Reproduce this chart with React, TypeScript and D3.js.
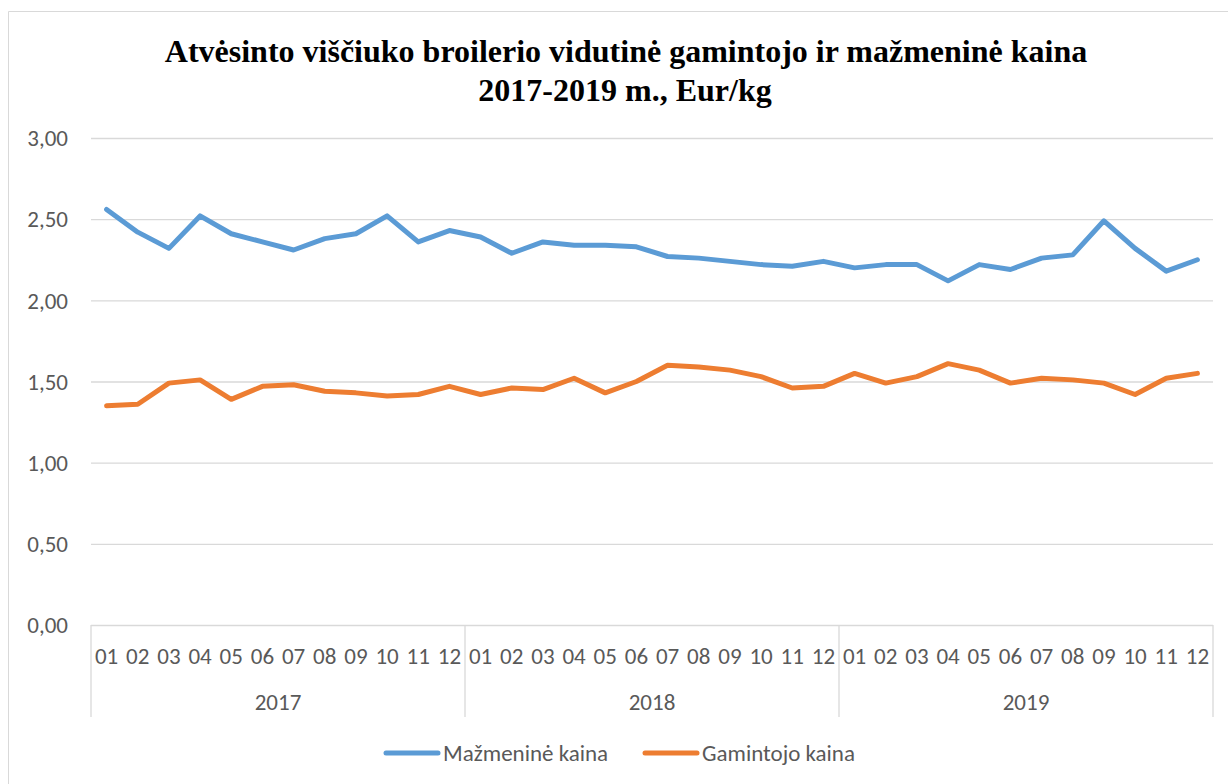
import React, { useRef, useEffect } from "react";
import { select, scaleBand, scaleLinear, line, axisLeft, format } from "d3";

// chart data
const years = ["2017", "2018", "2019"];
const months = ["01", "02", "03", "04", "05", "06", "07", "08", "09", "10", "11", "12"];
const retailPrice = [
  2.56, 2.42, 2.32, 2.52, 2.41, 2.36, 2.31, 2.38, 2.41, 2.52, 2.36, 2.43,
  2.39, 2.29, 2.36, 2.34, 2.34, 2.33, 2.27, 2.26, 2.24, 2.22, 2.21, 2.24,
  2.2, 2.22, 2.22, 2.12, 2.22, 2.19, 2.26, 2.28, 2.49, 2.32, 2.18, 2.25,
];
const producerPrice = [
  1.35, 1.36, 1.49, 1.51, 1.39, 1.47, 1.48, 1.44, 1.43, 1.41, 1.42, 1.47,
  1.42, 1.46, 1.45, 1.52, 1.43, 1.5, 1.6, 1.59, 1.57, 1.53, 1.46, 1.47,
  1.55, 1.49, 1.53, 1.61, 1.57, 1.49, 1.52, 1.51, 1.49, 1.42, 1.52, 1.55,
];
const yTicks = [0, 0.5, 1, 1.5, 2, 2.5, 3];
const seriesNames = ["Mažmeninė kaina", "Gamintojo kaina"];
const colors = ["#5b9bd5", "#ed7d31"];

const W = 1228;
const H = 784;
const labelFont = "Carlito, Calibri, Lato, sans-serif";
const labelSize = 23;
const textColor = "#595959";
const gridColor = "#d9d9d9";

function PriceChart() {
  const svgRef = useRef<SVGSVGElement>(null);

  useEffect(() => {
    const svg = select(svgRef.current);
    svg.selectAll("*").remove();

    const categories = years.flatMap((y) => months.map((m) => `${y}-${m}`));

    const x = scaleBand().domain(categories).range([91, 1213]).padding(0);
    const y = scaleLinear().domain([0, 3]).range([625, 138]);
    const fmt = (v: number) => format(".2f")(v).replace(".", ",");

    // outer frame (top + left visible)
    svg.append("path")
      .attr("d", `M8.5,${H} V11.5 H${W}`)
      .attr("fill", "none")
      .attr("stroke", gridColor);

    // title
    const title = svg.append("text")
      .attr("text-anchor", "middle")
      .attr("font-family", "'Liberation Serif', 'Times New Roman', serif")
      .attr("font-weight", "bold")
      .attr("font-size", 32)
      .attr("fill", "#000");
    title.append("tspan").attr("x", 626).attr("y", 62)
      .text("Atvėsinto viščiuko broilerio vidutinė gamintojo ir mažmeninė kaina");
    title.append("tspan").attr("x", 625).attr("y", 101)
      .text("2017-2019 m., Eur/kg");

    // y grid + labels
    const yAxis = axisLeft(y)
      .tickValues(yTicks)
      .tickSize(-(1213 - 91))
      .tickPadding(23)
      .tickFormat((d) => fmt(d as number));

    const gy = svg.append("g")
      .attr("transform", "translate(91,0)")
      .call(yAxis);
    gy.select(".domain").remove();
    gy.selectAll(".tick line").attr("stroke", gridColor).attr("stroke-width", 1.3);
    gy.selectAll(".tick text")
      .attr("fill", textColor)
      .attr("font-family", labelFont)
      .attr("font-size", labelSize)
      .attr("dy", "0.34em");

    // category axis: month labels, year labels, separators
    const gx = svg.append("g");
    gx.selectAll(".month")
      .data(categories)
      .join("text")
      .attr("class", "month")
      .attr("x", (d) => (x(d) as number) + x.bandwidth() / 2)
      .attr("y", 664)
      .attr("text-anchor", "middle")
      .attr("fill", textColor)
      .attr("font-family", labelFont)
      .attr("font-size", labelSize)
      .text((d) => d.split("-")[1]);

    gx.selectAll(".year")
      .data(years)
      .join("text")
      .attr("class", "year")
      .attr("x", (d) => {
        const a = x(`${d}-01`) as number;
        const b = (x(`${d}-12`) as number) + x.bandwidth();
        return (a + b) / 2;
      })
      .attr("y", 710)
      .attr("text-anchor", "middle")
      .attr("fill", textColor)
      .attr("font-family", labelFont)
      .attr("font-size", labelSize)
      .text((d) => d);

    const seps = [...years.map((d) => x(`${d}-01`) as number), 1213];
    gx.selectAll(".sep")
      .data(seps)
      .join("line")
      .attr("class", "sep")
      .attr("x1", (d) => d)
      .attr("x2", (d) => d)
      .attr("y1", 625)
      .attr("y2", 717)
      .attr("stroke", gridColor)
      .attr("stroke-width", 1.3);

    // lines
    const lineGen = line<number>()
      .x((d, i) => (x(categories[i]) as number) + x.bandwidth() / 2)
      .y((d) => y(d));

    svg.append("g")
      .selectAll("path")
      .data([retailPrice, producerPrice])
      .join("path")
      .attr("d", (d) => lineGen(d))
      .attr("fill", "none")
      .attr("stroke", (d, i) => colors[i])
      .attr("stroke-width", 5)
      .attr("stroke-linejoin", "round")
      .attr("stroke-linecap", "round");

    // legend
    const legendX = [386, 645];
    const legend = svg.append("g")
      .selectAll("g")
      .data(seriesNames)
      .join("g")
      .attr("transform", (d, i) => `translate(${legendX[i]},753)`);
    legend.append("line")
      .attr("x1", 0)
      .attr("x2", 52)
      .attr("stroke", (d, i) => colors[i])
      .attr("stroke-width", 5)
      .attr("stroke-linecap", "round");
    legend.append("text")
      .attr("x", 57)
      .attr("y", 8)
      .attr("fill", textColor)
      .attr("font-family", labelFont)
      .attr("font-size", labelSize)
      .text((d) => d);
  }, []);

  return (
    <svg
      ref={svgRef}
      width={W}
      height={H}
      style={{ position: "absolute", left: 0, top: 0, background: "#fff" }}
    />
  );
}

export default function App() {
  return <PriceChart />;
}
